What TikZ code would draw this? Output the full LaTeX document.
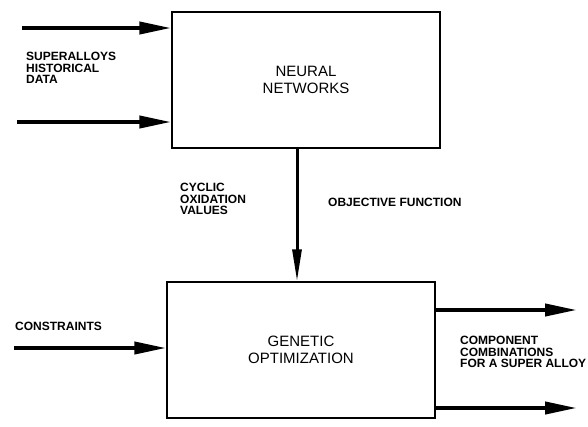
\documentclass[tikz,border=0pt]{standalone}
\usepackage{fontspec}
\setmainfont{Liberation Sans}
\usetikzlibrary{arrows.meta}
\begin{document}
\begin{tikzpicture}[x=1pt,y=-1pt,
  blockbox/.style={draw, line width=1.4pt, minimum width=268pt, minimum height=136pt, inner sep=0pt, align=center, font=\fontsize{15}{17.5}\selectfont},
  fatarrow/.style={line width=4pt, -{Triangle[length=32pt,width=12pt]}},
  midarrow/.style={line width=3pt, -{Triangle[length=32pt,width=9pt]}},
  lbl/.style={align=left, anchor=north west, inner sep=0pt, font=\fontsize{12}{11.5}\selectfont\bfseries}]
\useasboundingbox (0,0) rectangle (588,426);
\node[blockbox] (nn) at (306,80) {NEURAL\\NETWORKS};
\node[blockbox] (go) at (301,350) {GENETIC\\OPTIMIZATION};
% inputs to NN
\coordinate (in1) at (22,28);
\coordinate (in2) at (17,122);
\draw[fatarrow] (in1) -- (in1 -| nn.west);
\draw[fatarrow] (in2) -- (in2 -| nn.west);
\node[lbl] (hist) at (26,52) {SUPERALLOYS\\HISTORICAL\\DATA};
% vertical
\coordinate (vx) at (297,0);
\draw[midarrow] (nn.south -| vx) -- (go.north -| vx);
\node[lbl] (cyc) at (180,183) {CYCLIC\\OXIDATION\\VALUES};
\node[lbl] (obj) at (328,198) {OBJECTIVE FUNCTION};
% constraints
\coordinate (cin) at (14,348);
\draw[fatarrow] (cin) -- (cin -| go.west);
\node[lbl] (cons) at (15,322) {CONSTRAINTS};
% outputs
\coordinate (o1) at (577,310);
\coordinate (o2) at (577,408);
\draw[fatarrow] (o1 -| go.east) -- (o1);
\draw[fatarrow] (o2 -| go.east) -- (o2);
\node[lbl] (comp) at (460,336) {COMPONENT\\COMBINATIONS\\FOR A SUPER ALLOY};
\end{tikzpicture}
\end{document}
